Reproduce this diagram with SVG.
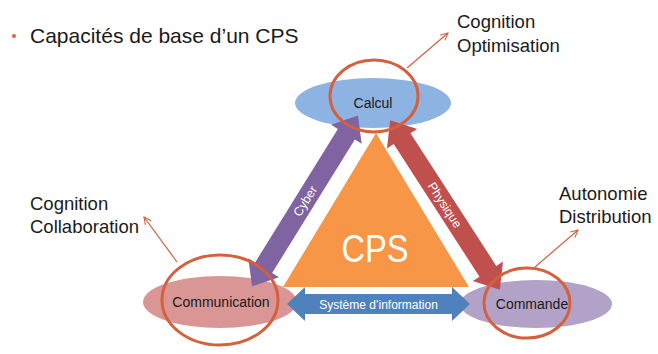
<svg xmlns="http://www.w3.org/2000/svg" width="658" height="354" viewBox="0 0 658 354">
<defs>
<style>
.t{font-family:"Liberation Sans",Arial,sans-serif;fill:#1a1a1a}
.lbl{font-family:"Liberation Sans",Arial,sans-serif;font-size:14px;fill:#1a1a1a;text-anchor:middle}
.w{font-family:"Liberation Sans",Arial,sans-serif;fill:#ffffff;text-anchor:middle}
.ring{fill:none;stroke:#D4603E;stroke-width:3}
.ptr{fill:none;stroke:#D4603E;stroke-width:1.2}
</style>
<marker id="ah" viewBox="0 0 10 10" refX="9" refY="5" markerWidth="9" markerHeight="9" orient="auto" markerUnits="userSpaceOnUse">
<path d="M1,1 L9,5 L1,9" fill="none" stroke="#D4603E" stroke-width="1.2"/>
</marker>
</defs>
<rect width="658" height="354" fill="#ffffff"/>
<g id="title">
<circle cx="14" cy="36" r="2" fill="#E0603B"/>
<text class="t" x="30" y="43" font-size="21">Capacités de base d’un CPS</text>
</g>
<g id="calcul">
<ellipse cx="373" cy="103" rx="78" ry="25" fill="#8DB3E2"/>
</g>
<g id="communication">
<ellipse cx="220" cy="302" rx="77" ry="26" fill="#D99694"/>
</g>
<g id="commande">
<ellipse cx="536" cy="304" rx="76" ry="24" fill="#B3A2C7"/>
</g>
<g id="cps">
<polygon points="376,133 283,287 469,287" fill="#F79646"/>
<text class="w" x="375" y="262" font-size="38" textLength="67" lengthAdjust="spacingAndGlyphs">CPS</text>
</g>
<g id="connectors">
<g transform="translate(305,201) rotate(-58.2)">
<polygon points="-100.5,0 -78.5,-18 -78.5,-10 78.5,-10 78.5,-18 100.5,0 78.5,18 78.5,10 -78.5,10 -78.5,18" fill="#8064A2"/>
<text class="w" x="0" y="4.5" font-size="12.5">Cyber</text>
</g>
<g transform="translate(445,205) rotate(57.1)">
<polygon points="-101,0 -79,-18 -79,-10 79,-10 79,-18 101,0 79,18 79,10 -79,10 -79,18" fill="#C0504D"/>
<text class="w" x="0" y="4.5" font-size="12.5">Physique</text>
</g>
<g transform="translate(378.5,304)">
<polygon points="-91.5,0 -73.5,-17 -73.5,-10 73.5,-10 73.5,-17 91.5,0 73.5,17 73.5,10 -73.5,10 -73.5,17" fill="#4F81BD"/>
<text class="w" x="0" y="4.5" font-size="12">Système d’information</text>
</g>
<line class="ptr" x1="407" y1="68" x2="448" y2="33" marker-end="url(#ah)"/>
<line class="ptr" x1="177" y1="262" x2="144" y2="217" marker-end="url(#ah)"/>
<line class="ptr" x1="535" y1="267" x2="578" y2="230" marker-end="url(#ah)"/>
</g>
<g id="labels">
<text class="lbl" x="373" y="108">Calcul</text>
<text class="lbl" x="221" y="307">Communication</text>
<text class="lbl" x="532" y="309">Commande</text>
</g>
<g id="rings">
<ellipse class="ring" cx="374" cy="96" rx="44" ry="36"/>
<ellipse class="ring" cx="220" cy="300" rx="58" ry="45"/>
<ellipse class="ring" cx="527" cy="303" rx="43" ry="35"/>
</g>
<g id="notes">
<text class="t" font-size="18.5"><tspan x="457" y="28">Cognition</tspan><tspan x="457" y="52">Optimisation</tspan></text>
<text class="t" font-size="18.5"><tspan x="30" y="210">Cognition</tspan><tspan x="30" y="233">Collaboration</tspan></text>
<text class="t" font-size="18.5"><tspan x="559" y="200">Autonomie</tspan><tspan x="559" y="223">Distribution</tspan></text>
</g>
</svg>
